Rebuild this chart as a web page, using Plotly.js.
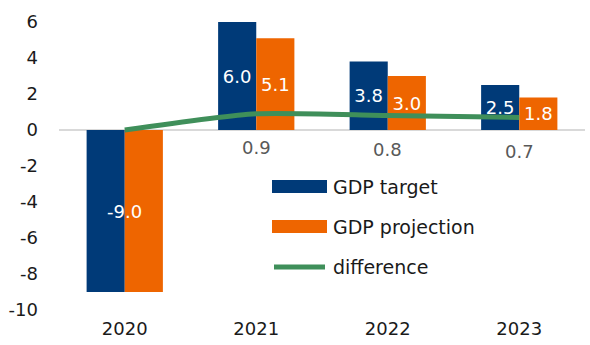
<!DOCTYPE html>
<html>
<head>
<meta charset="utf-8">
<script src="https://cdn.plot.ly/plotly-3.0.1.min.js"></script>
<style>html,body{margin:0;padding:0;background:#fff;}#chart{width:590px;height:345px;}</style>
</head>
<body>
<div id="chart"></div>
<script>
// ---- data ----
const years = ['2020', '2021', '2022', '2023'];
const gdpTarget = [-9.0, 6.0, 3.8, 2.5];
const gdpProjection = [-9.0, 5.1, 3.0, 1.8];
const difference = [0.0, 0.9, 0.8, 0.7];
const seriesNames = ['GDP target', 'GDP projection', 'difference'];
const yTicks = [6, 4, 2, 0, -2, -4, -6, -8, -10];

// ---- style ----
const FONT = 'DejaVu Sans, sans-serif';
const C_TARGET = '#003a78';
const C_PROJ = '#ee6500';
const C_DIFF = '#3f8f5a';
const W = 590, H = 345, ML = 59, MR = 5, MT = 22, MB = 35;
const PW = W - ML - MR, PH = H - MT - MB;
const px = x => (x - ML) / PW;            // pixel -> paper x
const py = y => (H - MB - y) / PH;        // pixel -> paper y

const fmt = v => v.toFixed(1);
const targetText = gdpTarget.map((v, i) => (gdpTarget[i] === gdpProjection[i] ? '' : fmt(v)));
const projText = gdpProjection.map((v, i) => (gdpTarget[i] === gdpProjection[i] ? '' : fmt(v)));

const barTextFont = {family: FONT, size: 18, color: '#ffffff'};

const traces = [
  {type: 'bar', x: years, y: gdpTarget, name: seriesNames[0], marker: {color: C_TARGET},
   text: targetText, textposition: 'inside', insidetextanchor: 'middle', textangle: 0,
   insidetextfont: barTextFont, constraintext: 'none', hoverinfo: 'skip', showlegend: false},
  {type: 'bar', x: years, y: gdpProjection, name: seriesNames[1], marker: {color: C_PROJ},
   text: projText, textposition: 'inside', insidetextanchor: 'middle', textangle: 0,
   insidetextfont: barTextFont, constraintext: 'none', hoverinfo: 'skip', showlegend: false},
  {type: 'scatter', mode: 'lines', x: years, y: difference, name: seriesNames[2],
   line: {color: C_DIFF, width: 5, shape: 'spline', smoothing: 0.6}, hoverinfo: 'skip', showlegend: false}
];

const annotations = [];
years.forEach((yr, i) => {
  if (gdpTarget[i] === gdpProjection[i]) {
    annotations.push({x: i, y: gdpTarget[i] / 2, xref: 'x', yref: 'y', text: fmt(gdpTarget[i]),
      showarrow: false, font: barTextFont});
  }
});
years.forEach((yr, i) => {
  if (difference[i] !== 0) {
    annotations.push({x: i, y: difference[i], xref: 'x', yref: 'y', text: fmt(difference[i]),
      showarrow: false, yshift: -34, font: {family: FONT, size: 18, color: '#595959'}});
  }
});

// manual legend
const legendRows = [
  {name: seriesNames[0], color: C_TARGET, kind: 'bar', yc: 186.5},
  {name: seriesNames[1], color: C_PROJ, kind: 'bar', yc: 226.5},
  {name: seriesNames[2], color: C_DIFF, kind: 'line', yc: 267}
];
const shapes = [];
legendRows.forEach(r => {
  if (r.kind === 'bar') {
    shapes.push({type: 'rect', xref: 'paper', yref: 'paper', x0: px(272), x1: px(327),
      y0: py(r.yc + 6.5), y1: py(r.yc - 6.5), fillcolor: r.color, line: {width: 0}});
  } else {
    shapes.push({type: 'line', xref: 'paper', yref: 'paper', x0: px(274), x1: px(325),
      y0: py(r.yc), y1: py(r.yc), line: {color: r.color, width: 5}});
  }
  annotations.push({xref: 'paper', yref: 'paper', x: px(331), y: py(r.yc), xanchor: 'left', yanchor: 'middle',
    text: r.name, showarrow: false, font: {family: FONT, size: 19, color: '#1a1a1a'}});
});

const layout = {
  width: W, height: H,
  margin: {l: ML, r: MR, t: MT, b: MB, pad: 0},
  paper_bgcolor: '#ffffff', plot_bgcolor: '#ffffff',
  font: {family: FONT, size: 18, color: '#1a1a1a'},
  barmode: 'group', bargap: 0.42, bargroupgap: 0,
  showlegend: false,
  xaxis: {type: 'category', range: [-0.5, years.length - 0.5], showgrid: false, showline: false,
    zeroline: false, ticks: '', ticklabelstandoff: 6,
    tickfont: {family: FONT, size: 18, color: '#1a1a1a'}, fixedrange: true},
  yaxis: {range: [-10, 6], tickvals: yTicks, ticktext: yTicks.map(String), showgrid: false,
    zeroline: true, zerolinecolor: '#d9d9d9', zerolinewidth: 2, showline: false, ticks: '',
    ticklabelstandoff: 20, tickfont: {family: FONT, size: 18, color: '#1a1a1a'}, fixedrange: true},
  annotations: annotations,
  shapes: shapes
};

Plotly.newPlot('chart', traces, layout, {displayModeBar: false, staticPlot: true});
</script>
</body>
</html>
